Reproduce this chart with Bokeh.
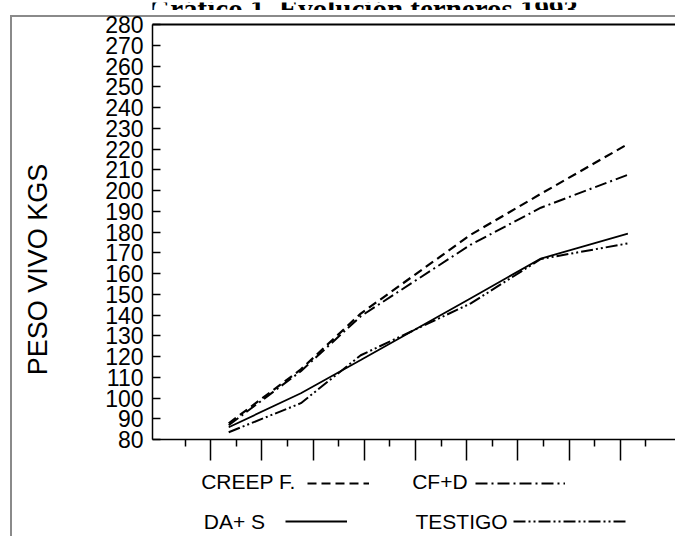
from bokeh.plotting import figure
from bokeh.layouts import column
from bokeh.models import (LinearAxis, FixedTicker, Range1d, Label, Legend, LegendItem,
                          CustomJSTickFormatter)
from bokeh.core.properties import value
from bokeh.embed import file_html
from bokeh.resources import INLINE

# ---- data ----
fechas = [1.35, 2.76, 3.93, 6.08, 7.45, 9.15]          # x position of each weighing (tick units)
creep_f = [87.8, 113.8, 140.7, 178.7, 198.4, 222.4]
cf_d = [86.9, 112.9, 139.4, 173.9, 191.7, 207.6]
da_s = [85.9, 102.3, 118.3, 148.1, 167.2, 179.2]
testigo = [83.5, 97.5, 120.6, 145.6, 167.0, 174.5]

y_ticks = list(range(80, 290, 10))
x_major = [1, 2, 3, 4, 5, 6, 7, 8, 9]
x_minor = [0.5, 1.5, 2.5, 3.5, 4.5, 5.5, 6.5, 7.5, 8.5, 9.5]

series_names = ["CREEP F.", "CF+D", "DA+ S", "TESTIGO"]
title_text = "Gráfico 1.  Evolución terneros 1993"
y_title = "PESO VIVO KGS"

FONT = "Liberation Sans"
W = 675
LEFT = 152
TITLE_H = 10          # strip for the cut title
LEG_TOP = 470         # page y where the legend strip starts
MAIN_H = LEG_TOP - TITLE_H
LEG_H = 536 - LEG_TOP

GRAY_BG = {"background": "linear-gradient(#8a8a8a,#8a8a8a) 10px 5px / 2px 100% no-repeat, "
                         "linear-gradient(#8a8a8a,#8a8a8a) 10px 5px / 100% 2px no-repeat, white"}
GRAY_SIDE = {"background": "linear-gradient(#8a8a8a,#8a8a8a) 10px 0px / 2px 100% no-repeat, white"}

# ---- strip with the (cut) title ----
tf = figure(width=W, height=TITLE_H, output_backend="svg", toolbar_location=None,
            x_range=Range1d(LEFT, W), y_range=Range1d(TITLE_H, 0),
            x_axis_type=None, y_axis_type=None,
            min_border_left=LEFT, min_border_right=0, min_border_top=0, min_border_bottom=0)
tf.outline_line_color = None
tf.xgrid.visible = False
tf.ygrid.visible = False
tf.add_layout(Label(x=366, y=6, text=title_text, text_font="Liberation Serif",
                    text_font_style="bold", text_font_size="29px", text_align="center",
                    text_baseline="alphabetic", text_color="black"))

# ---- main chart ----
p = figure(width=W, height=MAIN_H, output_backend="svg", toolbar_location=None,
           x_range=Range1d(-0.139, 10.08), y_range=Range1d(80, 280),
           min_border_left=LEFT, min_border_right=0, min_border_top=24 - TITLE_H,
           min_border_bottom=LEG_TOP - 439)
p.outline_line_color = None
p.xgrid.visible = False
p.ygrid.visible = False
p.background_fill_color = "white"
p.border_fill_color = None
p.styles = GRAY_BG

# y axis
ya = p.yaxis[0]
ya.ticker = FixedTicker(ticks=y_ticks)
ya.major_tick_in = 8
ya.major_tick_out = 0
ya.minor_tick_line_color = None
ya.major_tick_line_width = 1.5
ya.axis_line_width = 1.5
ya.axis_line_color = "black"
ya.major_label_text_font = FONT
ya.major_label_text_font_size = "23px"
ya.major_label_text_color = "black"
ya.major_label_standoff = 9
ya.axis_label = y_title + "\u00a0" * 10
ya.axis_label_text_font = FONT
ya.axis_label_text_font_size = "27px"
ya.axis_label_text_font_style = "normal"
ya.axis_label_text_color = "black"
ya.axis_label_standoff = 49

# x axis
xa = p.xaxis[0]
xa.ticker = FixedTicker(ticks=x_major, minor_ticks=x_minor)
xa.major_tick_in = 0
xa.major_tick_out = 21
xa.minor_tick_in = 0
xa.minor_tick_out = 7
xa.major_tick_line_width = 1.5
xa.minor_tick_line_width = 1.5
xa.axis_line_width = 1.5
xa.major_label_standoff = 0
xa.major_label_text_font_size = "6px"
xa.formatter = CustomJSTickFormatter(code="return ''")

# top border line of the plot
top = LinearAxis(ticker=FixedTicker(ticks=[]), formatter=CustomJSTickFormatter(code="return ''"),
                 major_tick_line_color=None, minor_tick_line_color=None,
                 axis_line_width=2, major_label_standoff=0)
p.add_layout(top, "above")

styles = [dict(line_width=2.2, line_dash="9 5"),
          dict(line_width=2, line_dash="12 4 2 4"),
          dict(line_width=1.8, line_dash="solid"),
          dict(line_width=2, line_dash="12 3 2 3 2 3")]
values = [creep_f, cf_d, da_s, testigo]
for vals, st in zip(values, styles):
    p.line(fechas, vals, line_color="black", **st)

# ---- legend strip (text, then line sample) ----
lf = figure(width=W, height=LEG_H, output_backend="svg", toolbar_location=None,
            x_range=Range1d(LEFT, W), y_range=Range1d(536, LEG_TOP),
            x_axis_type=None, y_axis_type=None,
            min_border_left=LEFT, min_border_right=0, min_border_top=0, min_border_bottom=0)
lf.outline_line_color = None
lf.xgrid.visible = False
lf.ygrid.visible = False
lf.background_fill_color = "white"
lf.border_fill_color = None
lf.styles = GRAY_SIDE

text_pos = [(200.7, 480.5), (411.7, 480.5), (203.3, 521), (415, 521)]
sample_loc = [(154.7, 48.3), (323, 48.5), (133, 10), (361.3, 10)]
sample_w = [62, 90, 62, 113]
for name, (tx, ty), loc, gw, st, vals in zip(series_names, text_pos, sample_loc, sample_w,
                                             styles, values):
    lf.add_layout(Label(x=tx, y=ty, text=name, text_font=FONT, text_font_size="21px",
                        text_align="left", text_baseline="middle", text_color="black"))
    # same series in the legend strip (falls outside its ranges) so the key can be drawn
    key_r = lf.line(fechas, vals, line_color="black", **st)
    lg = Legend(items=[LegendItem(label=value(" "), renderers=[key_r])],
                location=loc, glyph_width=gw, glyph_height=10, label_height=10,
                label_width=0, label_standoff=0, padding=0, margin=0, spacing=0,
                label_text_font_size="10px",
                border_line_color=None, background_fill_color=None, background_fill_alpha=0)
    lf.add_layout(lg, "center")

layout = column(tf, p, lf, spacing=0)
open("out.html", "w").write(file_html(layout, INLINE))
